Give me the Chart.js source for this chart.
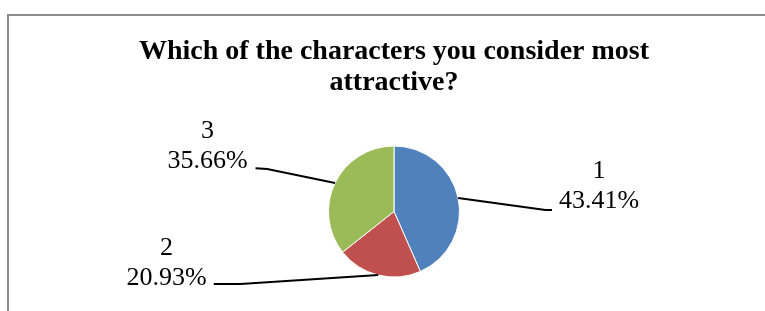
<!DOCTYPE html>
<html>
<head>
<meta charset="utf-8">
<script src="https://cdn.jsdelivr.net/npm/chart.js@4/dist/chart.umd.min.js"></script>
<style>
  html, body { margin: 0; padding: 0; background: #ffffff; overflow: hidden; width: 765px; height: 311px; }
  #frame { position: absolute; left: 7px; top: 14px; width: 900px; height: 400px;
           border-left: 2px solid #8c8c8c; border-top: 2px solid #8c8c8c; }
  #c { position: absolute; left: 0; top: 0; }
</style>
</head>
<body>
<div id="frame"></div>
<canvas id="c" width="765" height="311"></canvas>
<script>
// ---- data ----
const categories = ['1', '2', '3'];
const values = [43.41, 20.93, 35.66];
const titleLines = ['Which of the characters you consider most', 'attractive?'];

// ---- style ----
const colors = ['#4F81BD', '#C0504D', '#9BBB59'];
// label layout relative to pie centre (leader elbow, leader end, text block centre / baseline)
const labelLayout = [
  { elbow: [151.5, -1.5], end: [158, -1.5], text: [205, -3.2] },
  { elbow: [-153.5, 72.5], end: [-180.2, 72.5], text: [-227.5, 73.5] },
  { elbow: [-126.8, -42.5], end: [-138.5, -43.2], text: [-186.5, -43.2] }
];
const labelFont = '26px "Liberation Serif", "Times New Roman", serif';
const labelLineGap = 30;

const leaderPlugin = {
  id: 'leaders',
  afterDatasetsDraw(chart) {
    const ctx = chart.ctx;
    const meta = chart.getDatasetMeta(0);
    const total = values.reduce((a, b) => a + b, 0);
    ctx.save();
    meta.data.forEach((arc, i) => {
      const p = arc.getProps(['x', 'y', 'startAngle', 'endAngle', 'outerRadius'], true);
      const mid = (p.startAngle + p.endAngle) / 2;
      const sx = p.x + Math.cos(mid) * p.outerRadius;
      const sy = p.y + Math.sin(mid) * p.outerRadius;
      const L = labelLayout[i];
      ctx.beginPath();
      ctx.strokeStyle = '#000000';
      ctx.lineWidth = 1.9;
      ctx.moveTo(sx, sy);
      ctx.lineTo(p.x + L.elbow[0], p.y + L.elbow[1]);
      ctx.lineTo(p.x + L.end[0], p.y + L.end[1]);
      ctx.stroke();
      const pct = (values[i] / total * 100).toFixed(2) + '%';
      ctx.fillStyle = '#000000';
      ctx.font = labelFont;
      ctx.textAlign = 'center';
      ctx.textBaseline = 'alphabetic';
      const tx = p.x + L.text[0];
      const ty = p.y + L.text[1];
      ctx.fillText(categories[i], tx, ty - labelLineGap);
      ctx.fillText(pct, tx, ty);
    });
    ctx.restore();
  }
};

new Chart(document.getElementById('c'), {
  type: 'pie',
  data: {
    labels: categories,
    datasets: [{
      data: values,
      backgroundColor: colors,
      borderColor: '#ffffff',
      borderWidth: 1
    }]
  },
  options: {
    responsive: false,
    animation: false,
    layout: { padding: { left: 23, right: 0, top: 0, bottom: 33.5 } },
    plugins: {
      legend: { display: false },
      tooltip: { enabled: false },
      title: {
        display: true,
        text: titleLines,
        color: '#000000',
        font: { family: '"Liberation Serif", "Times New Roman", serif', size: 28, weight: 'bold', lineHeight: 1.1 },
        padding: { top: 36.2, bottom: 47.7 }
      }
    }
  },
  plugins: [leaderPlugin]
});
</script>
</body>
</html>
